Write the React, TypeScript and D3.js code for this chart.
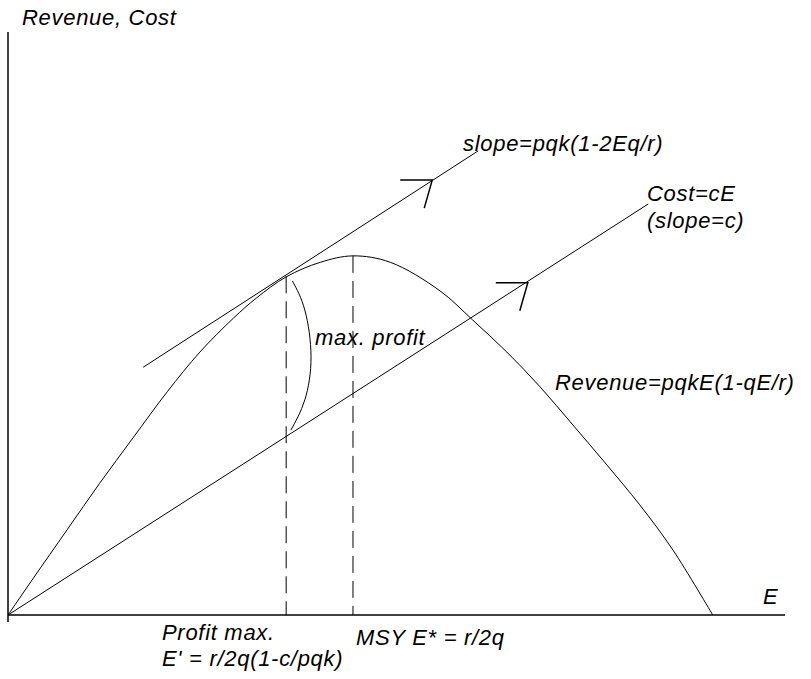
import { useEffect, useRef } from 'react';
import * as d3 from 'd3';

// revenue curve (effort E, revenue R)
const revenueE = [0, 3.2, 7.6, 11.8, 16.1, 20.5, 24.7, 29.0, 32.0, 35.8, 40.2, 44.4, 49.2, 55.6, 59.8, 64.2, 68.5, 72.7, 77.1, 81.3, 85.6, 90.7];
const revenueR = [0, 6.2, 14.6, 22.6, 30.4, 38.3, 45.1, 50.9, 54.4, 58.0, 60.5, 61.6, 60.5, 55.6, 50.6, 45.1, 39.1, 32.6, 25.7, 18.9, 11.1, 0];

// cost line and tangent line (start / end)
const costE = [0, 82.4];
const costC = [0, 70.5];
const tangentE = [17.4, 60.5];
const tangentR = [42.5, 79.6];

// arrow tips on the two lines
const arrowE = [54.6, 66.9];
const arrowV = [74.6, 57.0];

// profit max effort and MSY effort
const profitMaxE = 35.8;
const profitMaxR = 58.1;
const msyE = 44.4;
const msyR = 61.6;

// "max. profit" bracket between revenue and cost
const bracketE = [36.6, 38.2, 39.0, 38.2, 36.4];
const bracketV = [57.3, 52.3, 44.3, 36.9, 31.7];

const W = 811;
const H = 679;

const App = () => {
    const svgRef = useRef();

    useEffect(() => {
        const svg = d3.select(svgRef.current);
        svg.selectAll("*").remove();

        const x = d3.scaleLinear().domain([0, 100]).range([8, 785]);
        const y = d3.scaleLinear().domain([0, 100]).range([615, 32]);

        const g = svg.append("g")
            .attr("fill", "none")
            .attr("stroke", "#000")
            .attr("stroke-width", 1);

        // axes
        g.append("line").attr("x1", x(0)).attr("x2", x(0)).attr("y1", y(100)).attr("y2", y(0) + 7).attr("stroke-width", 1.5);
        g.append("line").attr("x1", x(0)).attr("x2", x(100)).attr("y1", y(0)).attr("y2", y(0)).attr("stroke-width", 1.5);

        // revenue curve
        const revenue = revenueE.map((e, i) => [e, revenueR[i]]);
        const line = d3.line().x(d => x(d[0])).y(d => y(d[1])).curve(d3.curveCatmullRom);
        g.append("path").attr("d", line(revenue));

        // cost and tangent lines
        g.append("line")
            .attr("x1", x(costE[0])).attr("y1", y(costC[0]))
            .attr("x2", x(costE[1])).attr("y2", y(costC[1]));
        g.append("line")
            .attr("x1", x(tangentE[0])).attr("y1", y(tangentR[0]))
            .attr("x2", x(tangentE[1])).attr("y2", y(tangentR[1]));

        // arrowheads
        arrowE.forEach((e, i) => {
            const tx = x(e), ty = y(arrowV[i]);
            g.append("path")
                .attr("d", `M${tx - 32},${ty} L${tx},${ty} L${tx - 8},${ty + 28}`)
                .attr("stroke-width", 1.5);
        });

        // vertical guides
        g.append("line")
            .attr("x1", x(profitMaxE)).attr("x2", x(profitMaxE))
            .attr("y1", y(profitMaxR)).attr("y2", y(0))
            .attr("stroke-dasharray", "17,8");
        g.append("line")
            .attr("x1", x(msyE)).attr("x2", x(msyE))
            .attr("y1", y(msyR)).attr("y2", y(0))
            .attr("stroke-dasharray", "17,8");

        // bracket
        const bracket = bracketE.map((e, i) => [e, bracketV[i]]);
        g.append("path").attr("d", d3.line().x(d => x(d[0])).y(d => y(d[1])).curve(d3.curveNatural)(bracket));

        // labels
        const labels = [
            ["Revenue, Cost", 22, 25],
            ["slope=pqk(1-2Eq/r)", 463, 151],
            ["Cost=cE", 647, 201],
            ["(slope=c)", 647, 228],
            ["max. profit", 315, 345],
            ["Revenue=pqkE(1-qE/r)", 555, 390],
            ["E", 763, 604],
            ["Profit max.", 162, 640],
            ["E' = r/2q(1-c/pqk)", 162, 666],
            ["MSY E* = r/2q", 356, 645],
        ];
        svg.append("g")
            .style("font-family", "'Liberation Sans', Arial, sans-serif")
            .style("font-style", "italic")
            .style("font-size", "22px")
            .style("letter-spacing", "0.7px")
            .attr("fill", "#000")
            .selectAll("text")
            .data(labels)
            .enter()
            .append("text")
            .attr("x", d => d[1])
            .attr("y", d => d[2])
            .text(d => d[0]);
    }, []);

    return (
        <svg ref={svgRef} width={W} height={H}
            style={{ position: "absolute", left: 0, top: 0, background: "#fff" }}></svg>
    );
};

export default App;
